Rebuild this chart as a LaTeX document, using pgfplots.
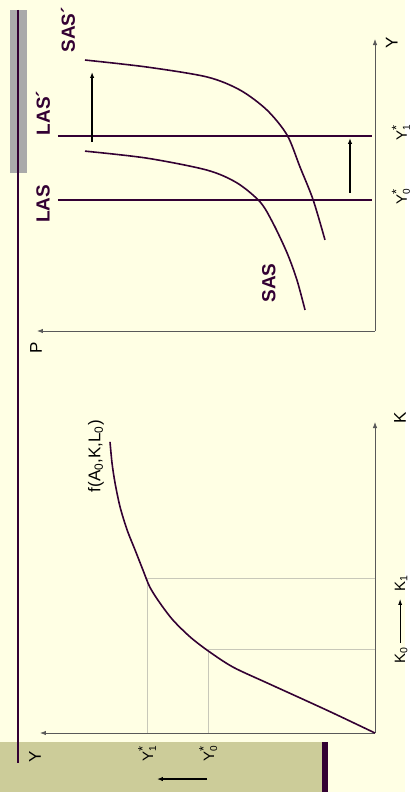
\documentclass[border=0pt]{standalone}
\usepackage{pgfplots}
\pgfplotsset{compat=1.18}
\usepackage{fontspec}
\setmainfont{Liberation Sans}
\usetikzlibrary{arrows.meta}

\definecolor{bg}{RGB}{255,255,228}
\definecolor{olivebox}{RGB}{204,204,153}
\definecolor{plum}{RGB}{51,0,51}
\definecolor{guide}{RGB}{200,200,185}
\definecolor{bargray}{RGB}{170,170,170}

\pgfplotsset{
  diag/.style={
    scale only axis, x dir=reverse,
    xmin=0, xmax=10, ymin=0, ymax=10,
    axis x line=bottom, axis y line=right, ticks=none, clip=false,
    axis line style={black!65, line width=0.8pt},
    x axis line style={-{Latex[length=6pt,width=4.5pt]}},
    y axis line style={-{Latex[length=6pt,width=4.5pt]}},
  },
  curve/.style={plum, line width=1.6pt, smooth, no marks},
}
\newcommand{\lab}{\fontsize{17}{20}\selectfont}
\newcommand{\sml}{\fontsize{15}{18}\selectfont}
\newcommand{\heavy}{\fontsize{19}{22}\selectfont\bfseries}
% Y with stacked * and subscript
\newcommand{\ystar}[1]{Y\rlap{\raisebox{6pt}{\fontsize{13}{13}\selectfont*}}%
  \rlap{\raisebox{-3pt}{\fontsize{10}{10}\selectfont #1}}}

\begin{document}
\begin{tikzpicture}
\begin{scope}[x=1pt, y=-1pt]
  \useasboundingbox (0,0) rectangle (405,792);
  \fill[bg] (0,0) rectangle (405,792);
  \fill[olivebox] (0,742) rectangle (323,792);
  \fill[plum] (322,742) rectangle (328,792);
  \fill[bargray] (10,10) rectangle (27,173);
  \draw[plum, line width=1.4pt] (18,10) -- (18,763);
\end{scope}

% upper diagram: P horizontal (to the left), Y vertical
\begin{axis}[diag, width=338pt, height=292pt, at={(375pt,-331pt)}, anchor=origin]
  % LAS and LAS'
  \addplot[plum, line width=1.6pt] coordinates {(9.38,4.49) (0.09,4.49)};
  \addplot[plum, line width=1.6pt] coordinates {(9.38,6.68) (0.09,6.68)};
  % SAS
  \addplot[curve] coordinates {
    (8.58,6.16) (6.75,5.92) (4.97,5.51) (4.08,5.07) (3.40,4.42)
    (3.02,3.70) (2.60,2.67) (2.31,1.75) (2.07,0.72)};
  % SAS'
  \addplot[curve] coordinates {
    (8.58,9.28) (6.75,9.04) (4.97,8.70) (3.99,8.25) (3.20,7.57)
    (2.60,6.71) (2.22,5.62) (1.83,4.49) (1.48,3.12)};
  % shift arrows
  \addplot[black, line width=1.3pt, -{Latex[length=6pt,width=4.5pt]}] coordinates {(8.37,6.47) (8.37,8.87)};
  \addplot[black, line width=1.3pt, -{Latex[length=6pt,width=4.5pt]}] coordinates {(0.74,4.73) (0.74,6.61)};
  % labels
  \node[rotate=90, font=\lab] at (axis cs:-0.50,9.86) {Y};
  \node[rotate=90, font=\lab] at (axis cs:10.03,-0.58) {P};
  \node[rotate=90, font=\sml] at (axis cs:-0.77,4.49) {\ystar{0}};
  \node[rotate=90, font=\sml] at (axis cs:-0.77,6.68) {\ystar{1}};
  \node[rotate=90, font=\heavy, plum] at (axis cs:9.82,4.35) {LAS};
  \node[rotate=90, font=\heavy, plum] at (axis cs:9.82,7.47) {LAS´};
  \node[rotate=90, font=\heavy, plum] at (axis cs:9.08,10.31) {SAS´};
  \node[rotate=90, font=\heavy, plum] at (axis cs:3.14,1.64) {SAS};
\end{axis}

% lower diagram: Y horizontal (to the left), K vertical
\begin{axis}[diag, width=335pt, height=311pt, at={(375pt,-733pt)}, anchor=origin]
  \addplot[guide, line width=0.6pt] coordinates {(0,2.68) (4.98,2.68) (4.98,0)};
  \addplot[guide, line width=0.6pt] coordinates {(0,4.98) (6.8,4.98) (6.8,0)};
  \addplot[curve] coordinates {
    (0,0) (1.25,0.64) (2.24,1.13) (3.22,1.61) (4.24,2.12) (4.98,2.64)
    (5.52,3.09) (6.03,3.63) (6.42,4.18) (6.72,4.69) (6.93,5.25)
    (7.16,5.88) (7.40,6.53) (7.61,7.27) (7.76,8.04) (7.85,8.68) (7.91,9.36)};
  \node[rotate=90, font=\lab] at (axis cs:-0.75,10.13) {K};
  \node[rotate=90, font=\lab] at (axis cs:10.15,-0.77) {Y};
  \node[rotate=90, font=\sml] at (axis cs:4.98,-0.77) {\ystar{0}};
  \node[rotate=90, font=\sml] at (axis cs:6.8,-0.77) {\ystar{1}};
  \addplot[black, line width=1.3pt, -{Latex[length=6pt,width=4.5pt]}]
    coordinates {(5.01,-1.48) (6.51,-1.48)};
  \node[rotate=90, font=\sml] at (axis cs:-0.78,2.51) {K\textsubscript{0}};
  \node[rotate=90, font=\sml] at (axis cs:-0.78,4.82) {K\textsubscript{1}};
  \addplot[black, line width=0.8pt, -{Latex[length=6pt,width=4pt]}]
    coordinates {(-0.75,2.89) (-0.75,4.31)};
  \node[rotate=90, font=\lab] at (axis cs:8.33,8.9) {f(A\textsubscript{0},K,L\textsubscript{0})};
\end{axis}
\end{tikzpicture}
\end{document}
